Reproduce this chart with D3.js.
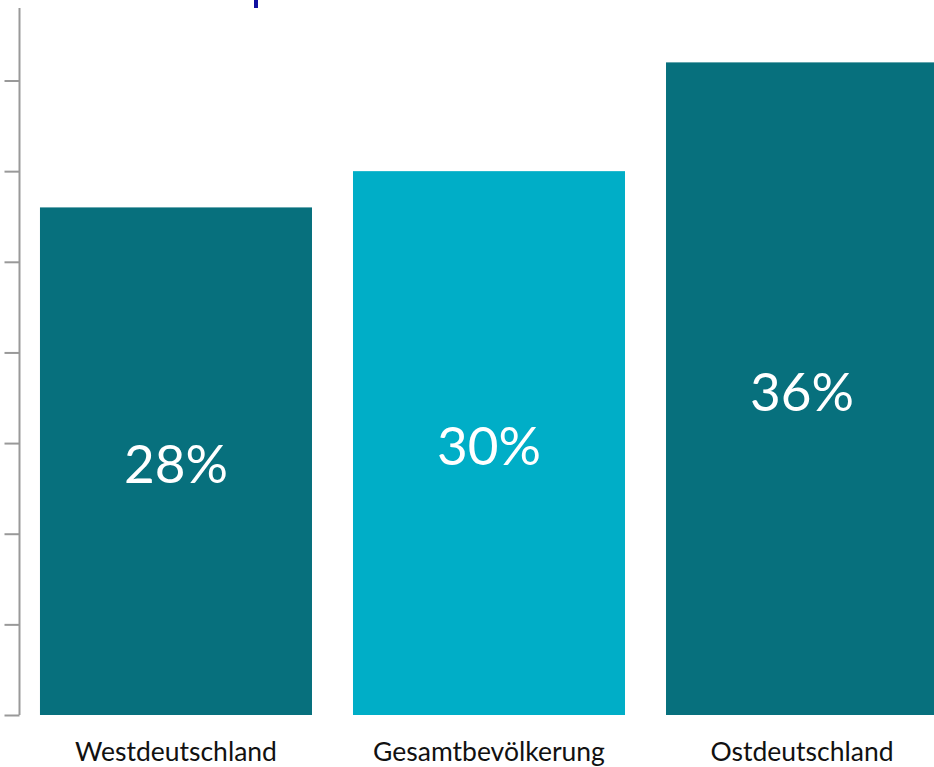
<!DOCTYPE html>
<html>
<head>
<meta charset="utf-8">
<script src="https://cdn.jsdelivr.net/npm/d3@7"></script>
<style>
  html, body { margin: 0; padding: 0; overflow: hidden; background: #fff; }
  svg { display: block; font-family: "Source Sans Pro", Lato, "Noto Sans", sans-serif; }
</style>
</head>
<body>
<div id="chart"></div>
<script>
// data
var categories = ["Westdeutschland", "Gesamtbevölkerung", "Ostdeutschland"];
var values = [28, 30, 36];
var barColors = ["#07707d", "#00aec7", "#07707d"];
var tickValues = [0, 5, 10, 15, 20, 25, 30, 35];

var width = 934, height = 767;

var svg = d3.select("#chart").append("svg")
  .attr("width", width)
  .attr("height", height);

var x = d3.scaleBand()
  .domain(categories)
  .range([19, 959])
  .paddingInner(0.131)
  .paddingOuter(0.067);

var y = d3.scaleLinear()
  .domain([0, 39])
  .range([715, 8]);

// cut-off title fragment at top
svg.append("rect")
  .attr("x", 254).attr("y", 0)
  .attr("width", 4).attr("height", 8)
  .attr("fill", "#1010a0");

// bars
svg.selectAll(".bar")
  .data(values)
  .enter().append("rect")
    .attr("class", "bar")
    .attr("x", (d, i) => x(categories[i]))
    .attr("y", d => y(d))
    .attr("width", x.bandwidth())
    .attr("height", d => y(0) - y(d))
    .attr("fill", (d, i) => barColors[i]);

// value labels in the middle of each bar
svg.selectAll(".val")
  .data(values)
  .enter().append("text")
    .attr("class", "val")
    .attr("x", (d, i) => x(categories[i]) + x.bandwidth() / 2)
    .attr("y", d => (y(d) + y(0)) / 2)
    .attr("dy", "0.42em")
    .attr("text-anchor", "middle")
    .attr("fill", "#fff")
    .style("font-size", "53px")
    .text(d => d + "%");

// y axis, no labels
var yAxis = svg.append("g")
  .attr("transform", "translate(19.5,0)")
  .call(d3.axisLeft(y).tickValues(tickValues).tickSize(15).tickFormat(""));
yAxis.select(".domain").attr("stroke", "#999").attr("stroke-width", 2).attr("d", "M0," + y(39) + "V" + y(0));
yAxis.selectAll(".tick line").attr("stroke", "#999").attr("stroke-width", 2);

// category labels
svg.selectAll(".cat")
  .data(categories)
  .enter().append("text")
    .attr("class", "cat")
    .attr("x", d => x(d) + x.bandwidth() / 2)
    .attr("y", 761)
    .attr("text-anchor", "middle")
    .attr("fill", "#111")
    .style("font-size", "26.5px")
    .text(d => d);
</script>
</body>
</html>
